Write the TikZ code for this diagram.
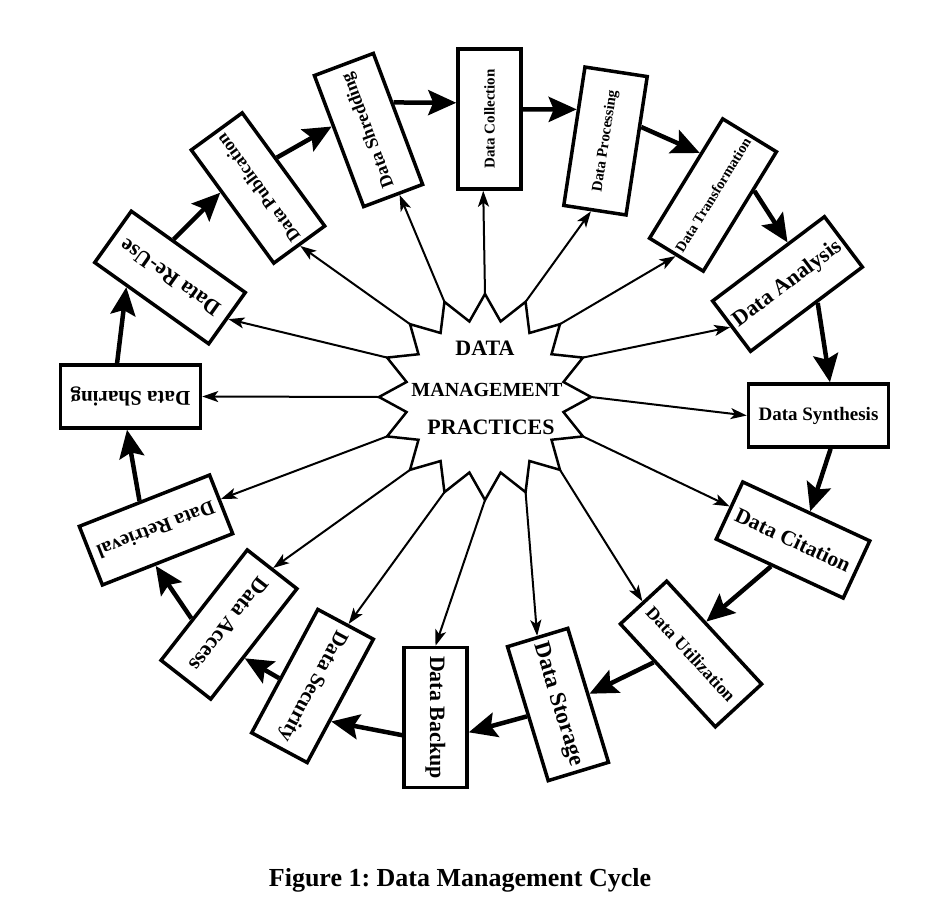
\documentclass[tikz,border=0pt]{standalone}
\usepackage{fontspec}
\setmainfont{Liberation Serif}
\usetikzlibrary{arrows.meta,calc}
\frenchspacing
\begin{document}
\begin{tikzpicture}[x=1pt,y=-1pt,
  box/.style={draw,line width=3.5pt,minimum width=140pt,minimum height=63pt,inner sep=0pt,fill=white},
  bsize/.style={font=\bfseries\fontsize{#1}{#1}\selectfont},
  rsize/.style={font=\fontsize{#1}{#1}\selectfont},
  flow/.style={line width=4.5pt,-{Stealth[length=28pt,width=25pt,inset=5pt]}},
  spoke/.style={line width=2pt,-{Stealth[length=16pt,width=11pt,inset=4pt]}},
  starline/.style={line width=2.5pt,line join=miter}]
\useasboundingbox (0,0) rectangle (942,907);

% star geometry
\begin{scope}[shift={(485,397)},yscale=-1]
  \foreach \k in {0,...,15}{
    \pgfmathsetmacro\a{90-22.5*\k}
    \coordinate (t\k) at ({106*cos(\a)},{103*sin(\a)});
    \coordinate (n\k) at ({80*cos(\a-11.25)},{77*sin(\a-11.25)});
  }
\end{scope}
\draw[starline] (t0) \foreach \k/\j in {0/1,1/2,2/3,3/4,4/5,5/6,6/7,7/8,8/9,9/10,10/11,11/12,12/13,13/14,14/15,15/0} { -- (n\k) -- (t\j) } -- cycle;

\node[bsize=22] (ctop) at (485,348) {DATA};
\node[bsize=20] (cmid) at (487,390) {MANAGEMENT};
\node[bsize=22] (cbot) at (491,427) {PRACTICES};

% boxes
\node[box,bsize=15,rotate=90] (coll) at (489.5,119) {Data Collection};
\node[box,bsize=15,rotate=81.3] (proc) at (605.5,141) {Data Processing};
\node[box,bsize=14.5,rotate=58.5] (trans) at (713,195) {Data Transformation};
\node[box,bsize=22,rotate=37] (anal) at (787.5,284) {Data Analysis};
\node[box,bsize=19,rotate=0] (synth) at (818.5,415.5) {Data Synthesis};
\node[box,bsize=21.5,rotate=-24.9] (cit) at (793,540) {Data Citation};
\node[box,bsize=18,rotate=-47.3] (util) at (691,654) {Data Utilization};
\node[box,bsize=23,rotate=-73.1] (stor) at (558,704.5) {Data Storage};
\node[box,bsize=22,rotate=-90] (back) at (435.5,717.5) {Data Backup};
\node[box,bsize=21,rotate=-118.2] (sec) at (312.5,686) {Data Security};
\node[box,bsize=22,rotate=-128] (acc) at (229,624.5) {Data Access};
\node[box,bsize=20,rotate=-158.5] (retr) at (156,530) {Data Retrieval};
\node[box,bsize=21,rotate=180] (shar) at (130.5,396.5) {Data Sharing};
\node[box,bsize=22,rotate=144.5] (reuse) at (170,277.5) {Data Re-Use};
\node[box,bsize=18,rotate=126.1] (publ) at (258,188) {Data Publication};
\node[box,bsize=18,rotate=110.6] (shred) at (368.5,130) {Data Shredding};

% spokes from the star
\draw[spoke] (t0) -- (coll.175);
\draw[spoke] (t1) -- (proc.177);
\draw[spoke] (t2) -- (trans.west);
\draw[spoke] (t3) -- (anal.west);
\draw[spoke] (t4) -- (synth.west);
\draw[spoke] (t5) -- (cit.177);
\draw[spoke] (t6) -- (util.west);
\draw[spoke] (t7) -- (stor.west);
\draw[spoke] (t8) -- (back.west);
\draw[spoke] (t9) -- (sec.178);
\draw[spoke] (t10) -- (acc.west);
\draw[spoke] (t11) -- (retr.184);
\draw[spoke] (t12) -- (shar.west);
\draw[spoke] (t13) -- (reuse.west);
\draw[spoke] (t14) -- (publ.west);
\draw[spoke] (t15) -- (shred.185);

% cycle
\draw[flow] (shred.297) -- (coll.64);
\draw[flow] (coll.286) -- (proc.51);
\draw[flow] (proc.300) -- (trans.49);
\draw[flow] (trans.307) -- (anal.53);
\draw[flow] (anal.291) -- (synth.71);
\draw[flow] (synth.290) -- (cit.84);
\draw[flow] (cit.255) -- (util.112);
\draw[flow] (util.240) -- (stor.92);
\draw[flow] (stor.274) -- (back.66);
\draw[flow] (back.298) -- (sec.56);
\draw[flow] (sec.285) -- (acc.63);
\draw[flow] (acc.299) -- (retr.68);
\draw[flow] (retr.278) -- (shar.84);
\draw[flow] (shar.292) -- (reuse.48);
\draw[flow] (reuse.300) -- (publ.61);
\draw[flow] (publ.292) -- (shred.64);

\node[bsize=26] (caption) at (460,880) {Figure 1: Data Management Cycle};
\end{tikzpicture}
\end{document}
